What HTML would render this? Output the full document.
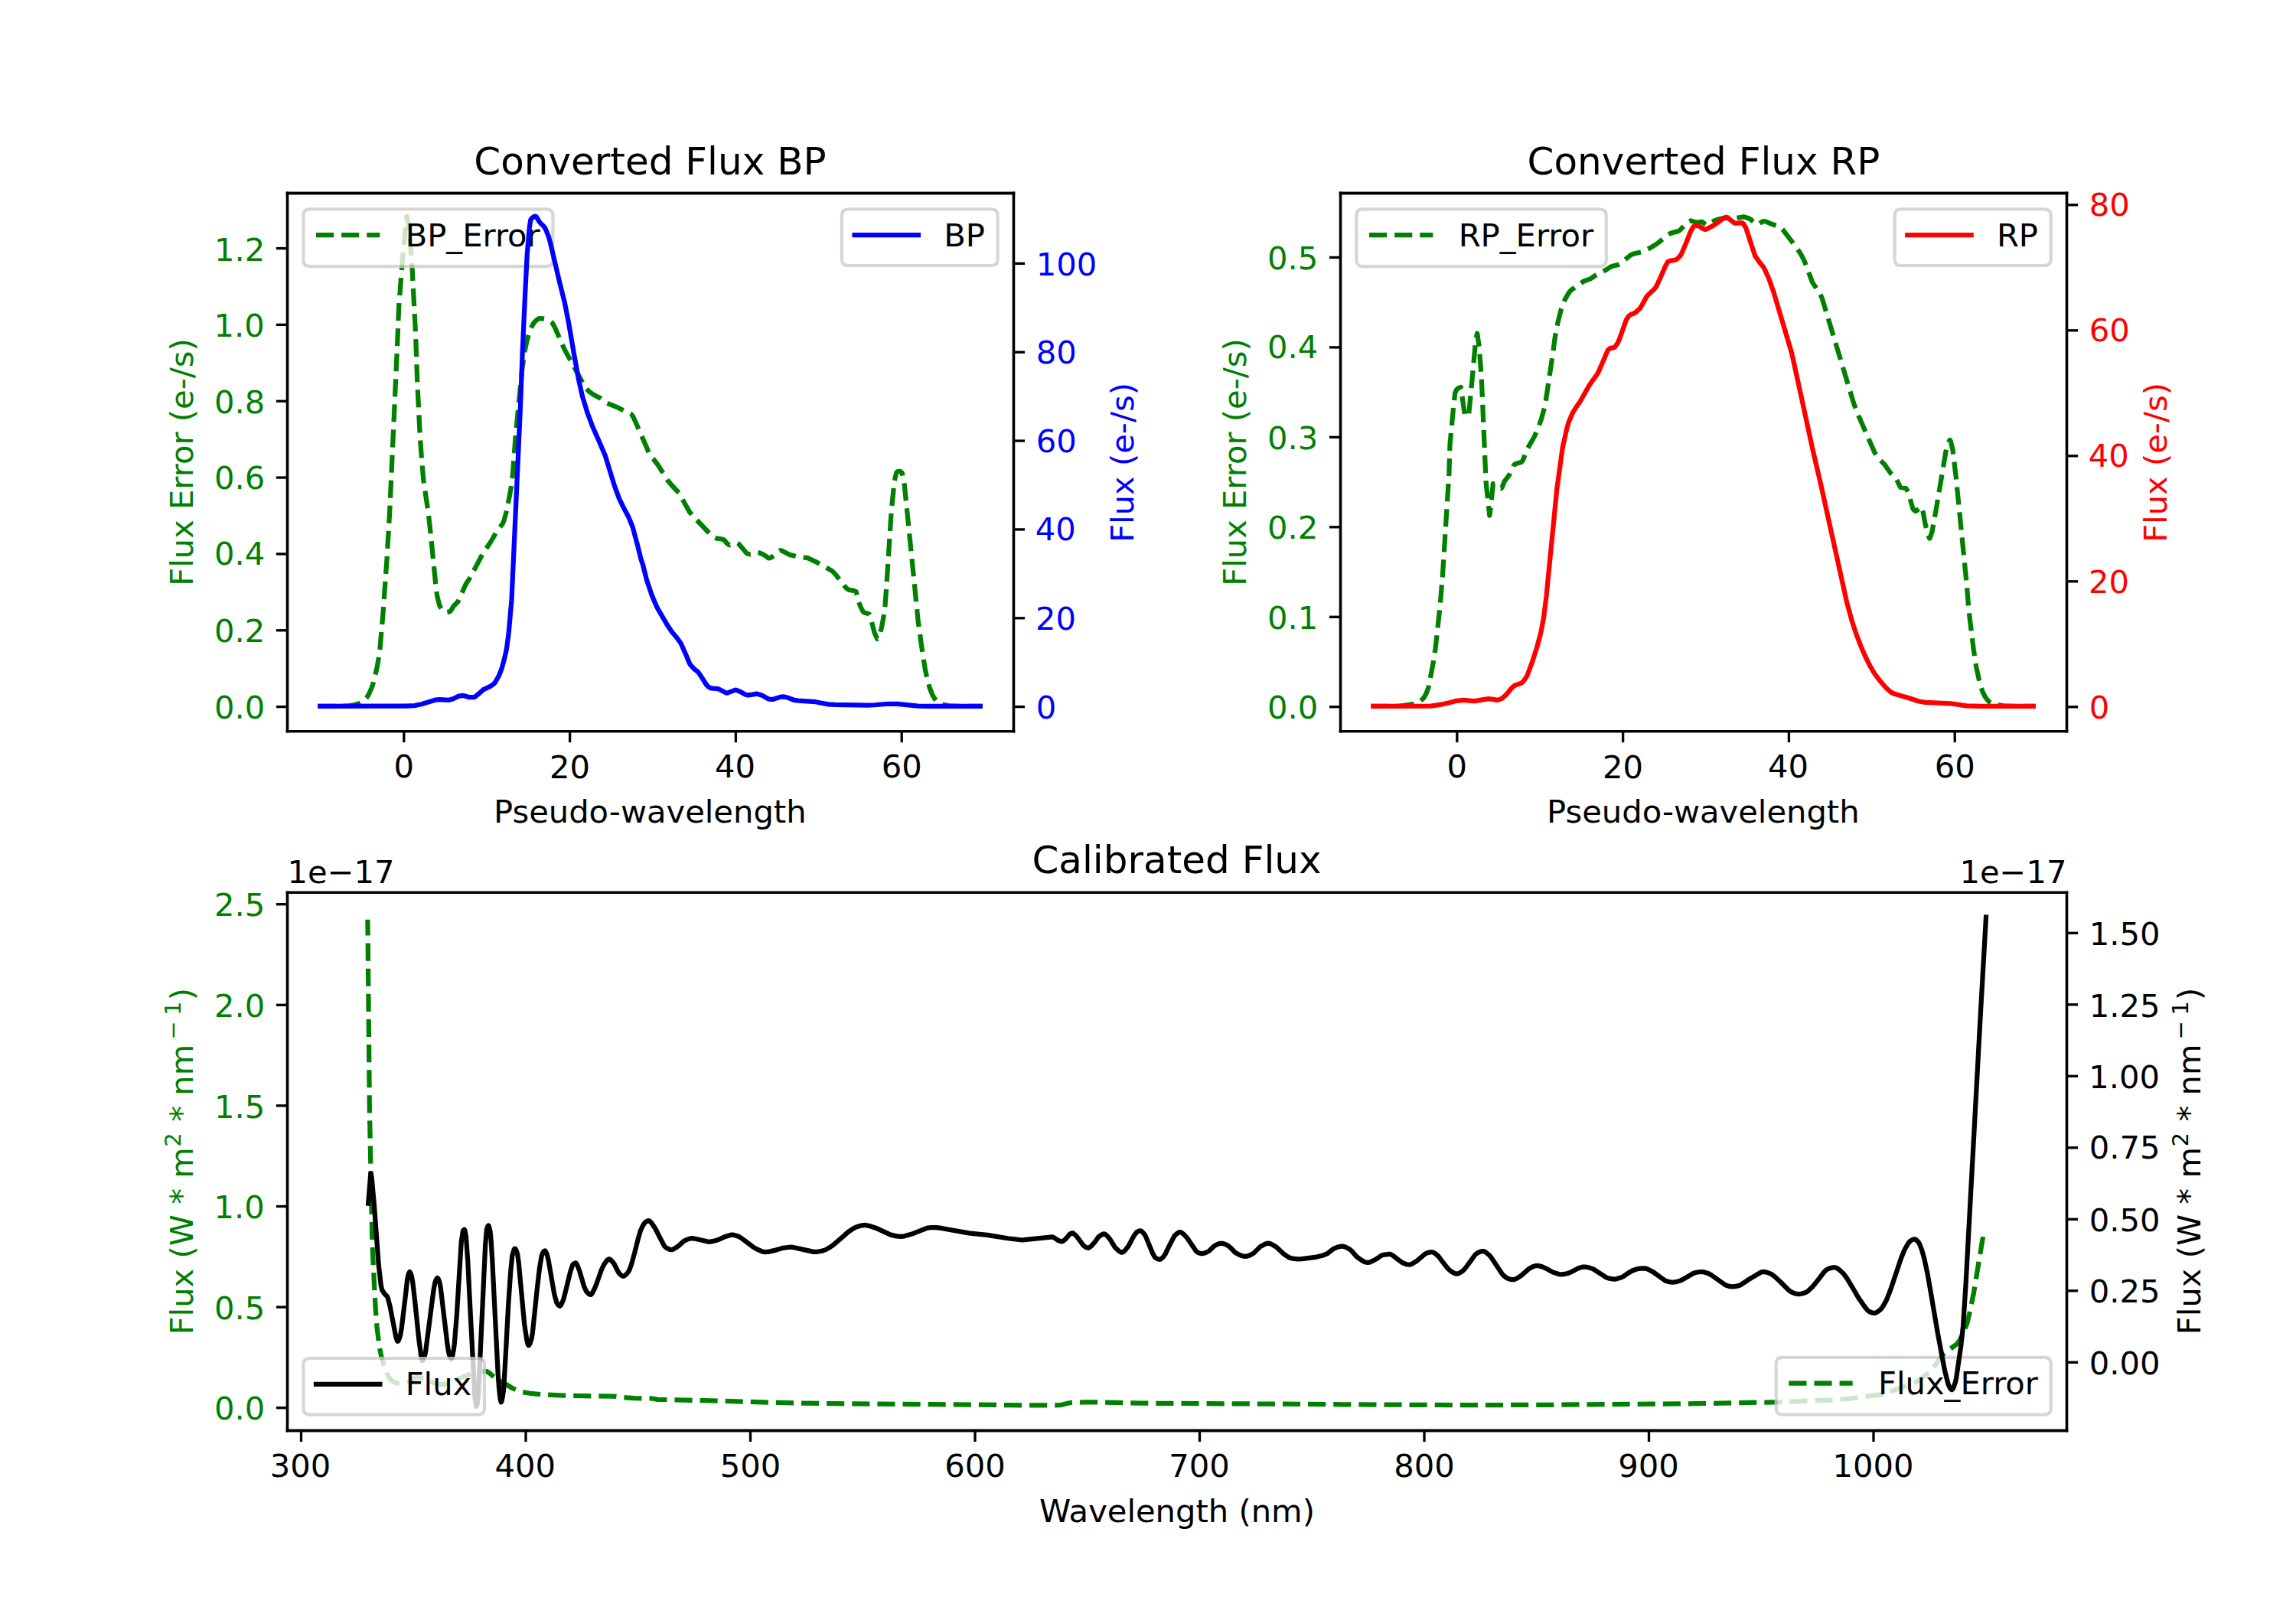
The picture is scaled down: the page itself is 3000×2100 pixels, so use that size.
<!DOCTYPE html>
<html lang="en"><head><meta charset="utf-8"><title>Converted and Calibrated Flux</title>
<style>html,body{margin:0;padding:0;background:#fff}svg{display:block}svg *{stroke-linejoin:round;stroke-linecap:butt}svg text,svg tspan{white-space:pre;font-family:"DejaVu Sans","Liberation Sans",sans-serif}</style>
</head><body>
<svg width="3000" height="2100" viewBox="0 0 720 504"> <g id="figure_1" transform="translate(0.12 0.12)"> <g> <path d="M 0 504 L 720 504 L 720 0 L 0 0 z " style="fill: #ffffff"/> </g> <g> <g> <path d="M 90 229.210 L 317.755 229.210 L 317.755 60.48 L 90 60.48 z " style="fill: #ffffff"/> </g> <g> <g> <g> <g> <path d="M 126.552 229.21 L 126.552 232.71" style="stroke: #000000; stroke-width: 0.8"/> </g> </g> <g> <text style="font-size: 10px; text-anchor: middle" x="126.552" y="243.808">0</text> </g> </g> <g> <g> <g> <path d="M 178.584 229.21 L 178.584 232.71" style="stroke: #000000; stroke-width: 0.8"/> </g> </g> <g> <g transform="translate(0.000 0.101)"><text style="font-size: 10px; text-anchor: middle" x="178.584" y="243.808">20</text></g> </g> </g> <g> <g> <g> <path d="M 230.616 229.21 L 230.616 232.71" style="stroke: #000000; stroke-width: 0.8"/> </g> </g> <g> <g transform="translate(-0.243 0.000)"><text style="font-size: 10px; text-anchor: middle" x="230.616" y="243.808">40</text></g> </g> </g> <g> <g> <g> <path d="M 282.648 229.21 L 282.648 232.71" style="stroke: #000000; stroke-width: 0.8"/> </g> </g> <g> <text style="font-size: 10px; text-anchor: middle" x="282.648" y="243.808">60</text> </g> </g> <g> <g transform="translate(-0.160 0.400)"><text style="font-size: 10px; text-anchor: middle" x="203.877" y="257.486">Pseudo-wavelength</text></g> </g> </g> <g> <g> <g> <g> <path d="M 90 221.544 L 86.5 221.544" style="stroke: #000000; stroke-width: 0.8"/> </g> </g> <g> <text style="font-size: 10px; text-anchor: end; fill: #008000" x="83" y="225.343">0.0</text> </g> </g> <g> <g> <g> <path d="M 90 197.582 L 86.5 197.582" style="stroke: #000000; stroke-width: 0.8"/> </g> </g> <g> <g transform="translate(0.000 -0.254)"><text style="font-size: 10px; text-anchor: end; fill: #008000" x="83" y="201.381">0.2</text></g> </g> </g> <g> <g> <g> <path d="M 90 173.621 L 86.5 173.621" style="stroke: #000000; stroke-width: 0.8"/> </g> </g> <g> <g transform="translate(0.000 -0.424)"><text style="font-size: 10px; text-anchor: end; fill: #008000" x="83" y="177.420">0.4</text></g> </g> </g> <g> <g> <g> <path d="M 90 149.659 L 86.5 149.659" style="stroke: #000000; stroke-width: 0.8"/> </g> </g> <g> <g transform="translate(0.000 -0.107)"><text style="font-size: 10px; text-anchor: end; fill: #008000" x="83" y="153.458">0.6</text></g> </g> </g> <g> <g> <g> <path d="M 90 125.698 L 86.5 125.698" style="stroke: #000000; stroke-width: 0.8"/> </g> </g> <g> <text style="font-size: 10px; text-anchor: end; fill: #008000" x="83" y="129.496">0.8</text> </g> </g> <g> <g> <g> <path d="M 90 101.736 L 86.5 101.736" style="stroke: #000000; stroke-width: 0.8"/> </g> </g> <g> <g transform="translate(-0.118 0.000)"><text style="font-size: 10px; text-anchor: end; fill: #008000" x="83" y="105.535">1.0</text></g> </g> </g> <g> <g> <g> <path d="M 90 77.774 L 86.5 77.774" style="stroke: #000000; stroke-width: 0.8"/> </g> </g> <g> <g transform="translate(0.000 0.124)"><text style="font-size: 10px; text-anchor: end; fill: #008000" x="83" y="81.573">1.2</text></g> </g> </g> <g> <g transform="translate(-0.552 0.000)"><text style="font-size: 10px; text-anchor: middle; fill: #008000" x="61.017" y="144.845" transform="rotate(-90 61.017 144.845)">Flux Error (e-/s)</text></g> </g> </g> <g> <path d="M 99.659 221.513 L 109.036 221.430 L 111.200 221.084 L 112.919 220.519 L 113.364 220.278 L 114.085 219.720 L 115.129 218.585 L 115.528 217.984 L 116.510 215.823 L 116.971 214.455 L 117.891 210.850 L 118.413 208.379 L 119.135 203.619 L 120.101 192.618 L 121.299 175.784 L 122.201 160.574 L 124.632 107.323 L 125.074 96.274 L 126.348 79.683 L 127.560 67.820 L 127.790 68.403 L 128.512 74.288 L 129.233 83.782 L 130.322 104.561 L 130.875 120.030 L 131.703 136.605 L 132.256 144.340 L 132.840 150.892 L 134.282 160.590 L 135.004 166.941 L 136.786 184.883 L 137.167 187.294 L 137.889 190.097 L 138.886 191.513 L 139.331 191.907 L 139.714 192.066 L 140.774 191.896 L 141.096 191.790 L 141.495 191.348 L 142.217 190.113 L 143.659 188.632 L 146.068 183.226 L 147.266 181.409 L 151.594 173.280 L 153.758 170.146 L 155.460 167.204 L 157.670 164.165 L 158.086 163.081 L 158.807 160.448 L 159.880 155.049 L 160.250 152.962 L 160.709 149.524 L 161.692 136.633 L 163.748 115.611 L 164.577 110.070 L 165.299 106.633 L 166.020 104.144 L 166.741 102.424 L 167.463 101.182 L 168.184 100.439 L 168.905 99.947 L 169.627 99.874 L 171.069 100.057 L 171.791 100.311 L 173.140 101.246 L 173.233 101.339 L 173.954 102.618 L 177.007 109.533 L 183.637 121.688 L 184.774 122.829 L 186.217 123.836 L 188.381 124.943 L 190.267 126.384 L 191.266 126.825 L 193.430 127.675 L 198.002 129.975 L 198.479 130.574 L 199.922 133.751 L 202.807 140.332 L 203.528 142.210 L 204.250 143.423 L 204.971 144.061 L 206.414 145.976 L 207.856 148.230 L 209.334 150.629 L 210.741 152.280 L 212.905 154.591 L 216.240 160.574 L 217.233 161.781 L 223.004 167.815 L 223.725 168.353 L 224.804 168.861 L 226.738 169.138 L 227.332 169.619 L 228.053 170.554 L 228.774 170.958 L 230.217 170.511 L 231.158 170.298 L 231.660 170.574 L 234.196 173.558 L 234.545 173.687 L 235.301 173.834 L 235.987 173.707 L 237.430 173.283 L 237.511 173.281 L 238.151 173.385 L 239.721 174.110 L 241.037 175.045 L 241.102 175.049 L 241.758 174.876 L 243.201 173.899 L 243.922 173.088 L 244.693 172.618 L 245.365 172.778 L 247.528 173.966 L 249.692 174.466 L 253.299 174.995 L 256.184 176.364 L 260.512 178.813 L 261.268 179.359 L 261.955 180.081 L 264.840 183.801 L 265.561 184.602 L 266.283 185.000 L 267.725 185.265 L 268.450 185.546 L 269.279 188.751 L 269.889 190.353 L 270.611 191.752 L 270.937 192.066 L 271.332 192.228 L 272.053 192.384 L 272.594 192.618 L 272.774 192.930 L 274.217 198.397 L 275.080 200.353 L 275.660 199.480 L 276.381 197.177 L 277.102 193.414 L 277.566 189.856 L 278.119 182.121 L 279.500 160.574 L 280.329 152.287 L 280.709 149.809 L 281.158 148.143 L 281.430 147.940 L 282.152 147.774 L 282.873 148.219 L 283.644 152.287 L 287.922 194.859 L 289.365 205.293 L 290.086 209.659 L 290.807 213.134 L 291.529 215.727 L 292.250 217.610 L 292.971 218.917 L 293.693 219.914 L 294.417 220.519 L 295.857 221.027 L 297.732 221.348 L 301.047 221.513 L 308.119 221.513 L 308.119 221.513 " clip-path="url(#p7373bc0abd)" transform="translate(-0.12 -0.12)" style="fill: none; stroke-dasharray: 5.55,2.4; stroke-dashoffset: 0; stroke: #008000; stroke-width: 1.5"/> </g> <g> <path d="M 90 229.210 L 90 60.48 " style="fill: none; stroke: #000000; stroke-width: 0.8; stroke-linejoin: miter; stroke-linecap: square"/> </g> <g> <path d="M 317.755 229.210 L 317.755 60.48 " style="fill: none; stroke: #000000; stroke-width: 0.8; stroke-linejoin: miter; stroke-linecap: square"/> </g> <g> <path d="M 90 229.210 L 317.755 229.210 " style="fill: none; stroke: #000000; stroke-width: 0.8; stroke-linejoin: miter; stroke-linecap: square"/> </g> <g> <path d="M 90 60.48 L 317.755 60.48 " style="fill: none; stroke: #000000; stroke-width: 0.8; stroke-linejoin: miter; stroke-linecap: square"/> </g> <g> <g transform="translate(-0.130 0.165)"><text style="font-size: 12px; text-anchor: middle" x="203.877" y="54.48">Converted Flux BP</text></g> </g> <g> <g> <path d="M 97 83.436 L 171.260 83.436 Q 173.260 83.436 173.260 81.436 L 173.260 67.48 Q 173.260 65.48 171.260 65.48 L 97 65.48 Q 95 65.48 95 67.48 L 95 81.436 Q 95 83.436 97 83.436 z " style="fill: #ffffff; opacity: 0.8; stroke: #cccccc; stroke-linejoin: miter"/> </g> <g> <path d="M 99 73.578 L 109 73.578 L 119 73.578 " style="fill: none; stroke-dasharray: 5.55,2.4; stroke-dashoffset: 0; stroke: #008000; stroke-width: 1.5"/> </g> <g> <text style="font-size: 10px; text-anchor: start" x="127" y="77.078">BP_Error</text> </g> </g> </g> <g> <g> <path d="M 420.244 229.210 L 648 229.210 L 648 60.48 L 420.244 60.48 z " style="fill: #ffffff"/> </g> <g> <g> <g> <g> <path d="M 456.797 229.21 L 456.797 232.71" style="stroke: #000000; stroke-width: 0.8"/> </g> </g> <g> <text style="font-size: 10px; text-anchor: middle" x="456.796" y="243.808">0</text> </g> </g> <g> <g> <g> <path d="M 508.829 229.21 L 508.829 232.71" style="stroke: #000000; stroke-width: 0.8"/> </g> </g> <g> <g transform="translate(0.000 0.101)"><text style="font-size: 10px; text-anchor: middle" x="508.828" y="243.808">20</text></g> </g> </g> <g> <g> <g> <path d="M 560.861 229.21 L 560.861 232.71" style="stroke: #000000; stroke-width: 0.8"/> </g> </g> <g> <g transform="translate(-0.203 0.000)"><text style="font-size: 10px; text-anchor: middle" x="560.860" y="243.808">40</text></g> </g> </g> <g> <g> <g> <path d="M 612.893 229.21 L 612.893 232.71" style="stroke: #000000; stroke-width: 0.8"/> </g> </g> <g> <text style="font-size: 10px; text-anchor: middle" x="612.892" y="243.808">60</text> </g> </g> <g> <g transform="translate(-0.161 0.401)"><text style="font-size: 10px; text-anchor: middle" x="534.122" y="257.486">Pseudo-wavelength</text></g> </g> </g> <g> <g> <g> <g> <path d="M 420.245 221.568 L 416.745 221.568" style="stroke: #000000; stroke-width: 0.8"/> </g> </g> <g> <g transform="translate(0.000 -0.237)"><text style="font-size: 10px; text-anchor: end; fill: #008000" x="413.244" y="225.367">0.0</text></g> </g> </g> <g> <g> <g> <path d="M 420.245 193.38 L 416.745 193.38" style="stroke: #000000; stroke-width: 0.8"/> </g> </g> <g> <text style="font-size: 10px; text-anchor: end; fill: #008000" x="413.244" y="197.179">0.1</text> </g> </g> <g> <g> <g> <path d="M 420.245 165.192 L 416.745 165.192" style="stroke: #000000; stroke-width: 0.8"/> </g> </g> <g> <g transform="translate(0.000 -0.254)"><text style="font-size: 10px; text-anchor: end; fill: #008000" x="413.244" y="168.991">0.2</text></g> </g> </g> <g> <g> <g> <path d="M 420.245 137.004 L 416.745 137.004" style="stroke: #000000; stroke-width: 0.8"/> </g> </g> <g> <text style="font-size: 10px; text-anchor: end; fill: #008000" x="413.244" y="140.803">0.3</text> </g> </g> <g> <g> <g> <path d="M 420.245 108.816 L 416.745 108.816" style="stroke: #000000; stroke-width: 0.8"/> </g> </g> <g> <g transform="translate(0.000 -0.296)"><text style="font-size: 10px; text-anchor: end; fill: #008000" x="413.244" y="112.615">0.4</text></g> </g> </g> <g> <g> <g> <path d="M 420.245 80.628 L 416.745 80.628" style="stroke: #000000; stroke-width: 0.8"/> </g> </g> <g> <text style="font-size: 10px; text-anchor: end; fill: #008000" x="413.244" y="84.427">0.5</text> </g> </g> <g> <g transform="translate(-0.552 0.000)"><text style="font-size: 10px; text-anchor: middle; fill: #008000" x="391.262" y="144.845" transform="rotate(-90 391.262 144.845)">Flux Error (e-/s)</text></g> </g> </g> <g> <path d="M 429.935 221.513 L 438.589 221.456 L 440.752 221.176 L 443.637 220.754 L 444.358 220.486 L 445.079 220.079 L 446.234 219.138 L 446.521 218.804 L 447.242 217.506 L 447.963 215.593 L 449.406 208.039 L 450.127 203.482 L 451.569 190.248 L 452.422 179.911 L 454.411 148.419 L 454.687 139.367 L 455.896 126.659 L 456.289 123.345 L 456.617 122.496 L 457.007 121.964 L 457.338 121.711 L 458.112 121.412 L 459.383 130.528 L 459.501 130.523 L 460.223 130.278 L 460.598 129.975 L 461.814 117.268 L 462.808 106.218 L 463.250 104.561 L 463.828 108.658 L 464.576 118.373 L 465.992 151.274 L 467.118 161.679 L 467.434 159.356 L 468.223 151.734 L 468.876 151.958 L 470.819 153.116 L 471.039 152.854 L 471.761 150.993 L 473.306 148.972 L 474.645 146.024 L 474.963 145.657 L 475.366 145.463 L 477.173 144.892 L 477.530 144.416 L 478.972 140.747 L 481.135 136.965 L 482.577 133.616 L 483.298 131.575 L 484.355 127.765 L 484.741 125.740 L 486.904 111.220 L 487.625 105.863 L 488.499 101.246 L 489.604 96.826 L 490.510 94.474 L 491.231 93.057 L 491.952 91.838 L 492.673 91.000 L 495.558 89.039 L 496.510 88.262 L 497.721 87.804 L 498.720 87.434 L 499.884 86.655 L 501.327 85.835 L 503.490 84.733 L 504.932 83.758 L 505.653 83.471 L 507.560 83.014 L 507.817 82.883 L 511.422 79.945 L 512.143 79.648 L 515.028 78.953 L 517.191 77.918 L 519.355 76.635 L 520.076 76.101 L 522.239 74.219 L 523.681 73.268 L 524.402 72.985 L 526.344 72.517 L 526.566 72.389 L 529.450 69.508 L 530.212 69.202 L 531.876 69.754 L 533.777 69.543 L 534.498 70.165 L 535.219 70.582 L 535.940 70.294 L 537.383 69.360 L 538.825 68.776 L 540.267 68.485 L 541.709 68.373 L 544.594 68.355 L 546.757 67.998 L 548.200 68.382 L 548.921 68.782 L 549.832 69.478 L 550.363 70.028 L 551.084 70.404 L 551.805 70.058 L 552.526 69.569 L 553.247 69.371 L 553.968 69.558 L 555.411 70.215 L 558.119 71.135 L 558.295 71.245 L 559.016 71.949 L 563.644 78.041 L 564.785 79.841 L 565.854 81.909 L 568.391 88.630 L 570.554 91.786 L 571.379 93.511 L 581.371 126.701 L 582.813 130.357 L 587.861 141.900 L 589.058 143.787 L 590.025 144.724 L 590.992 145.657 L 592.909 148.445 L 594.351 149.782 L 594.583 150.077 L 595.964 152.839 L 597.622 153.116 L 597.957 153.523 L 598.727 155.602 L 599.832 159.469 L 600.120 159.887 L 600.660 160.298 L 600.841 160.264 L 602.594 158.917 L 603.005 160.346 L 603.726 164.289 L 604.447 167.350 L 605.080 168.861 L 605.168 168.821 L 605.909 166.651 L 607.332 158.710 L 610.216 141.499 L 610.937 138.866 L 611.434 137.986 L 611.658 138.236 L 612.379 141.147 L 613.367 149.524 L 616.706 182.950 L 617.427 191.748 L 618.892 203.668 L 619.721 209.193 L 620.826 214.165 L 621.754 217.065 L 622.475 218.466 L 623.196 219.488 L 623.917 220.225 L 624.639 220.601 L 626.081 221.017 L 628.285 221.348 L 631.129 221.513 L 638.340 221.513 L 638.340 221.513 " clip-path="url(#pa615c9e503)" transform="translate(-0.12 -0.12)" style="fill: none; stroke-dasharray: 5.55,2.4; stroke-dashoffset: 0; stroke: #008000; stroke-width: 1.5"/> </g> <g> <path d="M 420.244 229.210 L 420.244 60.48 " style="fill: none; stroke: #000000; stroke-width: 0.8; stroke-linejoin: miter; stroke-linecap: square"/> </g> <g> <path d="M 648 229.210 L 648 60.48 " style="fill: none; stroke: #000000; stroke-width: 0.8; stroke-linejoin: miter; stroke-linecap: square"/> </g> <g> <path d="M 420.244 229.210 L 648 229.210 " style="fill: none; stroke: #000000; stroke-width: 0.8; stroke-linejoin: miter; stroke-linecap: square"/> </g> <g> <path d="M 420.244 60.48 L 648 60.48 " style="fill: none; stroke: #000000; stroke-width: 0.8; stroke-linejoin: miter; stroke-linecap: square"/> </g> <g> <g transform="translate(0.000 0.162)"><text style="font-size: 12px; text-anchor: middle" x="534.122" y="54.48">Converted Flux RP</text></g> </g> <g> <g> <path d="M 427.244 83.436 L 501.593 83.436 Q 503.593 83.436 503.593 81.436 L 503.593 67.48 Q 503.593 65.48 501.593 65.48 L 427.244 65.48 Q 425.244 65.48 425.244 67.48 L 425.244 81.436 Q 425.244 83.436 427.244 83.436 z " style="fill: #ffffff; opacity: 0.8; stroke: #cccccc; stroke-linejoin: miter"/> </g> <g> <path d="M 429.244 73.578 L 439.244 73.578 L 449.244 73.578 " style="fill: none; stroke-dasharray: 5.55,2.4; stroke-dashoffset: 0; stroke: #008000; stroke-width: 1.5"/> </g> <g> <text style="font-size: 10px; text-anchor: start" x="457.244" y="77.078">RP_Error</text> </g> </g> </g> <g> <g> <path d="M 90 448.56 L 648 448.56 L 648 279.829 L 90 279.829 z " style="fill: #ffffff"/> </g> <g> <g> <g> <g> <path d="M 94.32 448.56 L 94.32 452.06" style="stroke: #000000; stroke-width: 0.8"/> </g> </g> <g> <g transform="translate(-0.234 0.000)"><text style="font-size: 10px; text-anchor: middle" x="94.32" y="463.158">300</text></g> </g> </g> <g> <g> <g> <path d="M 164.76 448.56 L 164.76 452.06" style="stroke: #000000; stroke-width: 0.8"/> </g> </g> <g> <g transform="translate(-0.153 0.000)"><text style="font-size: 10px; text-anchor: middle" x="164.76" y="463.158">400</text></g> </g> </g> <g> <g> <g> <path d="M 235.2 448.56 L 235.2 452.06" style="stroke: #000000; stroke-width: 0.8"/> </g> </g> <g> <text style="font-size: 10px; text-anchor: middle" x="235.2" y="463.158">500</text> </g> </g> <g> <g> <g> <path d="M 305.64 448.56 L 305.64 452.06" style="stroke: #000000; stroke-width: 0.8"/> </g> </g> <g> <text style="font-size: 10px; text-anchor: middle" x="305.64" y="463.158">600</text> </g> </g> <g> <g> <g> <path d="M 376.08 448.56 L 376.08 452.06" style="stroke: #000000; stroke-width: 0.8"/> </g> </g> <g> <g transform="translate(-0.110 0.000)"><text style="font-size: 10px; text-anchor: middle" x="376.08" y="463.158">700</text></g> </g> </g> <g> <g> <g> <path d="M 446.52 448.56 L 446.52 452.06" style="stroke: #000000; stroke-width: 0.8"/> </g> </g> <g> <text style="font-size: 10px; text-anchor: middle" x="446.52" y="463.158">800</text> </g> </g> <g> <g> <g> <path d="M 516.96 448.56 L 516.96 452.06" style="stroke: #000000; stroke-width: 0.8"/> </g> </g> <g> <g transform="translate(-0.103 0.000)"><text style="font-size: 10px; text-anchor: middle" x="516.96" y="463.158">900</text></g> </g> </g> <g> <g> <g> <path d="M 587.4 448.56 L 587.4 452.06" style="stroke: #000000; stroke-width: 0.8"/> </g> </g> <g> <g transform="translate(-0.145 0.000)"><text style="font-size: 10px; text-anchor: middle" x="587.4" y="463.158">1000</text></g> </g> </g> <g> <g transform="translate(0.000 0.387)"><text style="font-size: 10px; text-anchor: middle" x="369" y="476.836">Wavelength (nm)</text></g> </g> </g> <g> <g> <g> <g> <path d="M 90 441.408 L 86.5 441.408" style="stroke: #000000; stroke-width: 0.8"/> </g> </g> <g> <g transform="translate(0.000 -0.237)"><text style="font-size: 10px; text-anchor: end; fill: #008000" x="83" y="445.207">0.0</text></g> </g> </g> <g> <g> <g> <path d="M 90 409.824 L 86.5 409.824" style="stroke: #000000; stroke-width: 0.8"/> </g> </g> <g> <text style="font-size: 10px; text-anchor: end; fill: #008000" x="83" y="413.623">0.5</text> </g> </g> <g> <g> <g> <path d="M 90 378.24 L 86.5 378.24" style="stroke: #000000; stroke-width: 0.8"/> </g> </g> <g> <g transform="translate(-0.118 -0.099)"><text style="font-size: 10px; text-anchor: end; fill: #008000" x="83" y="382.039">1.0</text></g> </g> </g> <g> <g> <g> <path d="M 90 346.656 L 86.5 346.656" style="stroke: #000000; stroke-width: 0.8"/> </g> </g> <g> <g transform="translate(0.000 0.116)"><text style="font-size: 10px; text-anchor: end; fill: #008000" x="83" y="350.455">1.5</text></g> </g> </g> <g> <g> <g> <path d="M 90 315.072 L 86.5 315.072" style="stroke: #000000; stroke-width: 0.8"/> </g> </g> <g> <g transform="translate(0.000 -0.117)"><text style="font-size: 10px; text-anchor: end; fill: #008000" x="83" y="318.871">2.0</text></g> </g> </g> <g> <g> <g> <path d="M 90 283.488 L 86.5 283.488" style="stroke: #000000; stroke-width: 0.8"/> </g> </g> <g> <g transform="translate(0.000 -0.228)"><text style="font-size: 10px; text-anchor: end; fill: #008000" x="83" y="287.287">2.5</text></g> </g> </g> <g> <g style="fill: #008000" transform="translate(61.017 418.594) rotate(-90)"> <g transform="translate(0.072 0.240)"><text><tspan x="0" y="-0.976" style="font-size: 10px; fill: #008000">Flux (W * m</tspan><tspan x="58.948" y="-4.804" style="font-size: 7px; fill: #008000">2</tspan><tspan x="63.675" y="-0.976" style="font-size: 10px; fill: #008000"> * nm</tspan><tspan x="92.571" y="-4.804" style="font-size: 7px; fill: #008000">−</tspan><tspan x="100.169" y="-4.804" style="font-size: 7px; fill: #008000">1</tspan><tspan x="104.896" y="-0.976" style="font-size: 10px; fill: #008000">)</tspan></text></g> </g> </g> <g> <text style="font-size: 10px; text-anchor: start" x="90" y="276.829">1e−17</text> </g> </g> <g> <path d="M 115.300 288.418 L 115.885 347.623 L 116.741 390.296 L 117.702 409.514 L 118.182 415.988 L 118.910 422.068 L 119.624 425.582 L 120.585 428.904 L 121.396 430.908 L 122.026 431.975 L 122.506 432.627 L 123.054 433.118 L 124.428 433.799 L 125.389 433.945 L 126.830 433.789 L 127.791 433.578 L 128.752 433.028 L 130.193 432.137 L 130.788 432.013 L 132.115 432.130 L 133.556 432.479 L 135.959 433.727 L 137.880 434.180 L 138.841 434.212 L 140.282 433.952 L 141.724 433.514 L 143.645 432.485 L 145.567 431.656 L 149.411 430.266 L 151.332 430.105 L 152.335 430.079 L 152.774 430.172 L 153.735 430.839 L 155.176 432.063 L 160.461 435.248 L 162.382 436.104 L 163.824 436.546 L 166.148 436.985 L 169.589 437.304 L 176.795 437.674 L 182.722 437.814 L 192.650 437.887 L 196.493 438.341 L 198.895 438.527 L 204.661 438.610 L 206.209 438.919 L 211.867 439.036 L 220.995 439.251 L 248.861 440.032 L 261.832 440.205 L 305.552 440.550 L 324 440.742 L 332.456 440.696 L 334.858 440.099 L 335.819 439.911 L 340.143 439.754 L 344.947 439.808 L 357.439 440.078 L 386.745 440.239 L 420.856 440.461 L 459.291 440.685 L 484.273 440.604 L 529.434 440.255 L 558.740 439.710 L 574.595 439.041 L 578.919 438.766 L 590.449 437.298 L 592.371 436.613 L 595.734 435.327 L 599.577 434.047 L 601.019 433.360 L 602.460 432.409 L 604.382 430.832 L 605.823 429.344 L 607.264 427.604 L 609.268 424.830 L 610.147 424.101 L 613.688 421.516 L 614.471 420.405 L 615.912 417.562 L 616.873 414.967 L 617.834 411.008 L 618.937 405.493 L 621.677 388.869 L 622.251 386.709 L 622.638 386.156 L 622.638 386.156 " clip-path="url(#p4cbbc29d7d)" transform="translate(-0.12 -0.12)" style="fill: none; stroke-dasharray: 5.55,2.4; stroke-dashoffset: 0.55; stroke: #008000; stroke-width: 1.5"/> </g> <g> <path d="M 90 448.56 L 90 279.829 " style="fill: none; stroke: #000000; stroke-width: 0.8; stroke-linejoin: miter; stroke-linecap: square"/> </g> <g> <path d="M 648 448.56 L 648 279.829 " style="fill: none; stroke: #000000; stroke-width: 0.8; stroke-linejoin: miter; stroke-linecap: square"/> </g> <g> <path d="M 90 448.56 L 648 448.56 " style="fill: none; stroke: #000000; stroke-width: 0.8; stroke-linejoin: miter; stroke-linecap: square"/> </g> <g> <path d="M 90 279.829 L 648 279.829 " style="fill: none; stroke: #000000; stroke-width: 0.8; stroke-linejoin: miter; stroke-linecap: square"/> </g> <g> <g transform="translate(-0.122 0.000)"><text style="font-size: 12px; text-anchor: middle" x="369" y="273.829">Calibrated Flux</text></g> </g> <g> <g> <path d="M 558.843 443.56 L 641 443.56 Q 643 443.56 643 441.56 L 643 427.603 Q 643 425.603 641 425.603 L 558.843 425.603 Q 556.843 425.603 556.843 427.603 L 556.843 441.56 Q 556.843 443.56 558.843 443.56 z " style="fill: #ffffff; opacity: 0.8; stroke: #cccccc; stroke-linejoin: miter"/> </g> <g> <path d="M 560.843 433.702 L 570.843 433.702 L 580.843 433.702 " style="fill: none; stroke-dasharray: 5.55,2.4; stroke-dashoffset: 0; stroke: #008000; stroke-width: 1.5"/> </g> <g> <text style="font-size: 10px; text-anchor: start" x="588.843" y="437.202">Flux_Error</text> </g> </g> </g> <g> <g> <g> <g> <g> <path d="M 317.755 221.544 L 321.255 221.544" style="stroke: #000000; stroke-width: 0.8"/> </g> </g> <g> <text style="font-size: 10px; text-anchor: start; fill: #0000ff" x="324.755" y="225.343">0</text> </g> </g> <g> <g> <g> <path d="M 317.755 193.742 L 321.255 193.742" style="stroke: #000000; stroke-width: 0.8"/> </g> </g> <g> <g transform="translate(-0.148 -0.227)"><text style="font-size: 10px; text-anchor: start; fill: #0000ff" x="324.755" y="197.541">20</text></g> </g> </g> <g> <g> <g> <path d="M 317.755 165.941 L 321.255 165.941" style="stroke: #000000; stroke-width: 0.8"/> </g> </g> <g> <g transform="translate(-0.209 -0.317)"><text style="font-size: 10px; text-anchor: start; fill: #0000ff" x="324.755" y="169.740">40</text></g> </g> </g> <g> <g> <g> <path d="M 317.755 138.139 L 321.255 138.139" style="stroke: #000000; stroke-width: 0.8"/> </g> </g> <g> <g transform="translate(0.000 -0.222)"><text style="font-size: 10px; text-anchor: start; fill: #0000ff" x="324.755" y="141.938">60</text></g> </g> </g> <g> <g> <g> <path d="M 317.755 110.338 L 321.255 110.338" style="stroke: #000000; stroke-width: 0.8"/> </g> </g> <g> <g transform="translate(0.000 -0.275)"><text style="font-size: 10px; text-anchor: start; fill: #0000ff" x="324.755" y="114.136">80</text></g> </g> </g> <g> <g> <g> <path d="M 317.755 82.536 L 321.255 82.536" style="stroke: #000000; stroke-width: 0.8"/> </g> </g> <g> <text style="font-size: 10px; text-anchor: start; fill: #0000ff" x="324.755" y="86.335">100</text> </g> </g> <g> <g transform="translate(0.000 0.107)"><text style="font-size: 10px; text-anchor: middle; fill: #0000ff" x="355.441" y="144.845" transform="rotate(-90 355.441 144.845)">Flux (e-/s)</text></g> </g> </g> <g> <path d="M 100.403 221.513 L 127.086 221.403 L 129.971 221.312 L 132.134 220.847 L 136.461 219.530 L 137.903 219.415 L 140.788 219.564 L 142.230 219.127 L 143.858 218.309 L 145.239 218.143 L 145.836 218.269 L 147.173 218.696 L 148.721 218.672 L 149.935 217.756 L 151.605 216.258 L 153.769 215.267 L 154.908 214.441 L 155.211 214.095 L 156.289 212.232 L 156.653 211.448 L 157.394 209.469 L 158.223 206.430 L 158.886 203.392 L 159.538 198.363 L 160.433 188.198 L 163.144 128.574 L 163.865 109.854 L 164.742 90.749 L 165.307 79.770 L 166.028 71.410 L 166.4 68.925 L 166.749 68.461 L 167.471 67.905 L 167.891 67.820 L 168.192 67.996 L 169.272 69.754 L 170.654 71.135 L 171.076 71.837 L 172.035 74.174 L 172.519 75.909 L 175.403 88.200 L 177.007 94.616 L 178.288 101.069 L 180.322 112.848 L 181.427 118.925 L 182.615 124.215 L 184.190 129.423 L 185.847 133.843 L 187.663 137.929 L 189.826 143.003 L 192.711 152.431 L 194.153 156.309 L 195.596 159.316 L 197.038 161.976 L 198.278 164.994 L 198.480 165.612 L 199.923 171.011 L 201.040 175.491 L 201.6 177.149 L 202.807 181.921 L 204.362 186.541 L 205.692 189.727 L 206.413 191.171 L 209.298 196.103 L 210.740 198.249 L 212.182 199.910 L 213.478 201.734 L 213.625 201.998 L 215.067 205.277 L 216.240 208.088 L 216.509 208.492 L 217.622 209.745 L 218.727 210.574 L 219.394 211.415 L 221.557 214.791 L 222.278 215.514 L 223.000 215.840 L 225.163 216.004 L 227.843 217.370 L 228.048 217.353 L 229.490 216.812 L 230.605 216.375 L 230.932 216.419 L 232.375 217.063 L 233.817 217.854 L 234.538 218.032 L 235.980 217.845 L 237.235 217.591 L 237.423 217.600 L 238.865 218.027 L 241.029 219.239 L 241.750 219.303 L 242.483 219.303 L 243.913 218.847 L 245.246 218.475 L 246.077 218.573 L 246.798 218.743 L 248.961 219.550 L 250.404 219.750 L 255.743 220.132 L 257.615 220.510 L 259.779 220.872 L 261.942 221.010 L 272.038 221.197 L 274.202 221.100 L 278.529 220.740 L 281.413 220.780 L 287.904 221.414 L 291.509 221.513 L 307.375 221.513 L 307.375 221.513 " clip-path="url(#p7373bc0abd)" transform="translate(-0.12 -0.12)" style="fill: none; stroke: #0000ff; stroke-width: 1.5; stroke-linecap: square"/> </g> <g> <path d="M 90 229.210 L 90 60.48 " style="fill: none; stroke: #000000; stroke-width: 0.8; stroke-linejoin: miter; stroke-linecap: square"/> </g> <g> <path d="M 317.755 229.210 L 317.755 60.48 " style="fill: none; stroke: #000000; stroke-width: 0.8; stroke-linejoin: miter; stroke-linecap: square"/> </g> <g> <path d="M 90 229.210 L 317.755 229.210 " style="fill: none; stroke: #000000; stroke-width: 0.8; stroke-linejoin: miter; stroke-linecap: square"/> </g> <g> <path d="M 90 60.48 L 317.755 60.48 " style="fill: none; stroke: #000000; stroke-width: 0.8; stroke-linejoin: miter; stroke-linecap: square"/> </g> <g> <g> <path d="M 265.864 83.158 L 310.755 83.158 Q 312.755 83.158 312.755 81.158 L 312.755 67.48 Q 312.755 65.48 310.755 65.48 L 265.864 65.48 Q 263.864 65.48 263.864 67.48 L 263.864 81.158 Q 263.864 83.158 265.864 83.158 z " style="fill: #ffffff; opacity: 0.8; stroke: #cccccc; stroke-linejoin: miter"/> </g> <g> <path d="M 267.864 73.578 L 277.864 73.578 L 287.864 73.578 " style="fill: none; stroke: #0000ff; stroke-width: 1.5; stroke-linecap: square"/> </g> <g> <text style="font-size: 10px; text-anchor: start" x="295.864" y="77.078">BP</text> </g> </g> </g> <g> <g> <g> <g> <g> <path d="M 648 221.592 L 651.5 221.592" style="stroke: #000000; stroke-width: 0.8"/> </g> </g> <g> <g transform="translate(0.000 -0.251)"><text style="font-size: 10px; text-anchor: start; fill: #ff0000" x="655" y="225.391">0</text></g> </g> </g> <g> <g> <g> <path d="M 648 182.232 L 651.5 182.232" style="stroke: #000000; stroke-width: 0.8"/> </g> </g> <g> <g transform="translate(-0.148 -0.227)"><text style="font-size: 10px; text-anchor: start; fill: #ff0000" x="655" y="186.031">20</text></g> </g> </g> <g> <g> <g> <path d="M 648 142.872 L 651.5 142.872" style="stroke: #000000; stroke-width: 0.8"/> </g> </g> <g> <g transform="translate(-0.210 -0.273)"><text style="font-size: 10px; text-anchor: start; fill: #ff0000" x="655" y="146.671">40</text></g> </g> </g> <g> <g> <g> <path d="M 648 103.512 L 651.5 103.512" style="stroke: #000000; stroke-width: 0.8"/> </g> </g> <g> <g transform="translate(0.000 -0.279)"><text style="font-size: 10px; text-anchor: start; fill: #ff0000" x="655" y="107.311">60</text></g> </g> </g> <g> <g> <g> <path d="M 648 64.152 L 651.5 64.152" style="stroke: #000000; stroke-width: 0.8"/> </g> </g> <g> <g transform="translate(0.000 -0.275)"><text style="font-size: 10px; text-anchor: start; fill: #ff0000" x="655" y="67.951">80</text></g> </g> </g> <g> <g transform="translate(0.000 0.110)"><text style="font-size: 10px; text-anchor: middle; fill: #ff0000" x="679.323" y="144.845" transform="rotate(-90 679.323 144.845)">Flux (e-/s)</text></g> </g> </g> <g> <path d="M 430.679 221.513 L 448.703 221.435 L 451.587 221.032 L 454.471 220.390 L 456.731 219.801 L 458.941 219.580 L 460.960 219.762 L 462.402 219.853 L 463.844 219.648 L 466.728 219.157 L 468.169 219.317 L 469.438 219.580 L 469.611 219.569 L 470.819 219.138 L 471.053 219.012 L 472.201 218.033 L 472.495 217.699 L 473.937 215.883 L 474.963 214.994 L 476.100 214.583 L 477.173 214.165 L 477.542 213.871 L 478.554 212.508 L 478.984 211.663 L 480.426 207.834 L 481.868 203.314 L 482.974 199.248 L 483.310 197.785 L 484.079 193.723 L 484.908 187.093 L 488.223 153.392 L 489.991 140.472 L 491.240 134.859 L 491.961 132.303 L 493.195 129.423 L 494.124 127.940 L 495.566 125.840 L 498.450 120.710 L 500.930 117.268 L 501.334 116.458 L 504.218 109.804 L 504.939 109.213 L 506.179 108.981 L 506.381 108.862 L 507.283 107.6 L 507.822 106.410 L 509.985 100.287 L 510.706 99.171 L 511.427 98.616 L 512.532 98.207 L 512.869 98.005 L 514.190 96.826 L 514.311 96.680 L 515.032 95.466 L 516.4 92.959 L 517.195 92.111 L 518.637 90.831 L 519.358 89.897 L 520.800 86.836 L 522.242 83.482 L 522.963 82.200 L 523.306 81.909 L 524.405 81.679 L 525.516 81.467 L 525.847 81.300 L 526.897 80.251 L 527.288 79.626 L 528.730 76.234 L 530.212 72.517 L 530.893 71.288 L 531.317 70.859 L 532.152 70.638 L 532.335 70.659 L 533.056 71.037 L 533.777 71.597 L 534.638 71.964 L 535.219 71.847 L 537.382 70.671 L 539.545 69.145 L 540.266 68.532 L 541.268 68.097 L 541.708 68.230 L 543.150 69.395 L 544.030 70.030 L 546.240 69.865 L 546.754 70.217 L 547.475 71.405 L 550.359 80.215 L 551.801 82.299 L 552.870 83.566 L 553.243 84.193 L 554.685 87.368 L 556.127 91.415 L 561.895 110.821 L 564.779 124.037 L 568.383 140.733 L 570.826 151.182 L 579.113 188.751 L 580.640 194.391 L 582.082 198.837 L 583.524 202.611 L 584.966 205.920 L 586.407 208.830 L 587.849 211.260 L 589.611 213.613 L 591.454 215.749 L 592.896 217.016 L 593.617 217.432 L 595.135 217.922 L 598.664 218.928 L 601.765 219.966 L 603.711 220.283 L 606.594 220.432 L 611.641 220.622 L 616.688 221.348 L 621.102 221.513 L 637.596 221.513 L 637.596 221.513 " clip-path="url(#pa615c9e503)" transform="translate(-0.12 -0.12)" style="fill: none; stroke: #ff0000; stroke-width: 1.5; stroke-linecap: square"/> </g> <g> <path d="M 420.244 229.210 L 420.244 60.48 " style="fill: none; stroke: #000000; stroke-width: 0.8; stroke-linejoin: miter; stroke-linecap: square"/> </g> <g> <path d="M 648 229.210 L 648 60.48 " style="fill: none; stroke: #000000; stroke-width: 0.8; stroke-linejoin: miter; stroke-linecap: square"/> </g> <g> <path d="M 420.244 229.210 L 648 229.210 " style="fill: none; stroke: #000000; stroke-width: 0.8; stroke-linejoin: miter; stroke-linecap: square"/> </g> <g> <path d="M 420.244 60.48 L 648 60.48 " style="fill: none; stroke: #000000; stroke-width: 0.8; stroke-linejoin: miter; stroke-linecap: square"/> </g> <g> <g> <path d="M 596.021 83.158 L 641 83.158 Q 643 83.158 643 81.158 L 643 67.48 Q 643 65.48 641 65.48 L 596.021 65.48 Q 594.021 65.48 594.021 67.48 L 594.021 81.158 Q 594.021 83.158 596.021 83.158 z " style="fill: #ffffff; opacity: 0.8; stroke: #cccccc; stroke-linejoin: miter"/> </g> <g> <path d="M 598.021 73.578 L 608.021 73.578 L 618.021 73.578 " style="fill: none; stroke: #ff0000; stroke-width: 1.5; stroke-linecap: square"/> </g> <g> <text style="font-size: 10px; text-anchor: start" x="626.021" y="77.078">RP</text> </g> </g> </g> <g> <g> <g> <g> <g> <path d="M 648 427.152 L 651.5 427.152" style="stroke: #000000; stroke-width: 0.8"/> </g> </g> <g> <text style="font-size: 10px; text-anchor: start" x="655" y="430.951">0.00</text> </g> </g> <g> <g> <g> <path d="M 648 404.712 L 651.5 404.712" style="stroke: #000000; stroke-width: 0.8"/> </g> </g> <g> <g transform="translate(0.000 -0.248)"><text style="font-size: 10px; text-anchor: start" x="655" y="408.511">0.25</text></g> </g> </g> <g> <g> <g> <path d="M 648 382.272 L 651.5 382.272" style="stroke: #000000; stroke-width: 0.8"/> </g> </g> <g> <text style="font-size: 10px; text-anchor: start" x="655" y="386.071">0.50</text> </g> </g> <g> <g> <g> <path d="M 648 359.832 L 651.5 359.832" style="stroke: #000000; stroke-width: 0.8"/> </g> </g> <g> <g transform="translate(0.000 -0.350)"><text style="font-size: 10px; text-anchor: start" x="655" y="363.631">0.75</text></g> </g> </g> <g> <g> <g> <path d="M 648 337.392 L 651.5 337.392" style="stroke: #000000; stroke-width: 0.8"/> </g> </g> <g> <g transform="translate(-0.102 -0.118)"><text style="font-size: 10px; text-anchor: start" x="655" y="341.191">1.00</text></g> </g> </g> <g> <g> <g> <path d="M 648 314.952 L 651.5 314.952" style="stroke: #000000; stroke-width: 0.8"/> </g> </g> <g> <text style="font-size: 10px; text-anchor: start" x="655" y="318.751">1.25</text> </g> </g> <g> <g> <g> <path d="M 648 292.512 L 651.5 292.512" style="stroke: #000000; stroke-width: 0.8"/> </g> </g> <g> <g transform="translate(0.000 -0.121)"><text style="font-size: 10px; text-anchor: start" x="655" y="296.311">1.50</text></g> </g> </g> <g> <g transform="translate(689.685 418.594) rotate(-90)"> <g transform="translate(0.120 1.200)"><text><tspan x="0" y="-0.976" style="font-size: 10px">Flux (W * m</tspan><tspan x="58.948" y="-4.804" style="font-size: 7px">2</tspan><tspan x="63.675" y="-0.976" style="font-size: 10px"> * nm</tspan><tspan x="92.571" y="-4.804" style="font-size: 7px">−</tspan><tspan x="100.169" y="-4.804" style="font-size: 7px">1</tspan><tspan x="104.896" y="-0.976" style="font-size: 10px">)</tspan></text></g> </g> </g> <g> <text style="font-size: 10px; text-anchor: end" x="648" y="276.829">1e−17</text> </g> </g> <g> <path d="M 115.485 377.427 L 116.258 367.924 L 116.565 369.353 L 117.285 377.230 L 118.725 396.576 L 119.445 402.949 L 119.805 404.560 L 120.525 405.717 L 120.885 406.077 L 121.396 406.598 L 121.605 407.056 L 122.326 409.802 L 124.126 419.185 L 124.486 420.407 L 124.711 420.687 L 124.846 420.613 L 125.206 419.853 L 125.566 418.658 L 125.926 416.615 L 127.197 406.046 L 127.750 401.074 L 128.086 399.627 L 128.468 398.864 L 128.807 399.409 L 129.167 400.661 L 129.527 402.915 L 130.247 409.327 L 131.327 419.816 L 132.047 425.230 L 132.446 426.764 L 132.767 426.388 L 133.275 424.830 L 133.487 423.730 L 136.008 404.376 L 136.424 402.179 L 136.728 401.351 L 137.142 400.797 L 137.448 401.110 L 137.860 402.179 L 138.168 403.842 L 139.352 413.781 L 140.328 421.943 L 140.688 424.138 L 141.048 425.471 L 141.562 426.212 L 141.768 425.855 L 142.280 423.173 L 142.489 421.576 L 143.209 412.860 L 144.649 389.564 L 145.153 386.156 L 145.369 385.773 L 145.595 385.604 L 145.729 385.778 L 146.148 387.814 L 146.700 395.549 L 147.529 412.134 L 148.910 438.090 L 149.330 441.021 L 149.407 441.129 L 149.690 440.188 L 149.904 438.643 L 150.050 436.612 L 152.210 390.329 L 152.612 385.604 L 152.930 384.643 L 153.164 384.388 L 153.290 384.508 L 153.717 386.156 L 154.010 389.265 L 154.370 395.076 L 156.171 430.917 L 156.531 435.822 L 156.891 438.887 L 157.142 439.748 L 157.251 439.643 L 157.611 438.120 L 157.971 435.368 L 158.691 422.832 L 159.411 409.263 L 160.131 398.835 L 160.623 393.891 L 161.211 391.817 L 161.451 391.571 L 161.571 391.620 L 161.931 392.257 L 162.291 393.380 L 162.652 396.059 L 164.452 415.350 L 165.172 420.044 L 165.532 421.615 L 165.761 421.958 L 165.892 421.902 L 166.252 421.269 L 166.700 419.858 L 166.972 418.282 L 168.412 404.429 L 169.186 397.759 L 169.853 393.836 L 170.213 392.936 L 170.573 392.384 L 170.933 392.262 L 171.293 392.842 L 171.672 393.891 L 172.013 395.396 L 173.813 405.854 L 174.533 408.457 L 174.893 409.079 L 175.253 409.507 L 175.613 409.624 L 175.974 409.229 L 176.694 407.578 L 177.414 404.739 L 178.855 398.864 L 179.574 396.687 L 179.934 396.337 L 180.512 396.101 L 180.654 396.161 L 181.014 396.738 L 181.734 398.638 L 183.175 403.514 L 183.827 404.941 L 184.615 405.789 L 185.208 406.046 L 185.335 406.015 L 185.695 405.642 L 186.590 403.836 L 187.135 402.433 L 188.575 398.347 L 189.352 396.654 L 190.376 395.240 L 190.736 394.958 L 191.096 394.893 L 191.456 395.065 L 192.391 396.101 L 192.536 396.312 L 193.976 399.108 L 194.696 399.889 L 195.056 400.144 L 195.429 400.245 L 195.776 400.163 L 196.497 399.584 L 197.217 398.665 L 197.937 396.771 L 199.017 392.883 L 200.097 388.573 L 200.817 386.089 L 201.537 384.473 L 202.257 383.403 L 202.978 382.945 L 203.440 382.841 L 203.698 382.918 L 204.418 383.680 L 205.498 385.314 L 206.578 387.459 L 208.378 390.879 L 209.098 391.474 L 210.179 391.921 L 210.899 391.898 L 211.619 391.550 L 212.699 390.818 L 214.499 389.194 L 215.939 388.558 L 216.983 388.366 L 217.740 388.455 L 222.232 389.471 L 223.140 389.388 L 224.994 388.919 L 226.021 388.477 L 227.461 387.835 L 229.261 387.293 L 229.981 387.280 L 231.062 387.589 L 232.142 388.073 L 233.222 388.846 L 236.102 391.040 L 237.183 391.697 L 238.983 392.513 L 239.911 392.676 L 241.143 392.554 L 243.303 392.064 L 245.464 391.401 L 247.624 391.135 L 248.704 391.188 L 250.505 391.577 L 255.185 392.601 L 256.265 392.589 L 257.706 392.337 L 258.786 392.011 L 260.226 391.207 L 261.306 390.454 L 263.826 388.275 L 265.987 386.354 L 267.787 385.152 L 268.867 384.702 L 270.307 384.305 L 271.388 384.233 L 272.468 384.436 L 274.628 385.132 L 277.869 386.609 L 279.309 387.262 L 281.109 387.681 L 282.549 387.813 L 283.629 387.675 L 285.790 387.075 L 290.830 385.124 L 292.271 384.964 L 293.711 384.977 L 295.511 385.251 L 303.792 386.741 L 309.553 387.316 L 316.034 388.385 L 320.574 388.919 L 321.795 388.765 L 330.076 387.933 L 330.796 388.332 L 331.630 388.919 L 332.597 389.301 L 333.012 389.361 L 333.317 389.285 L 334.037 388.712 L 334.757 387.905 L 335.498 386.985 L 336.327 386.709 L 336.557 386.766 L 337.277 387.384 L 337.637 387.765 L 339.798 390.670 L 340.518 391.199 L 341.238 391.403 L 341.598 391.289 L 342.318 390.691 L 343.398 389.464 L 344.478 387.929 L 345.199 387.399 L 345.919 387.039 L 346.279 386.985 L 346.639 387.103 L 347.359 387.772 L 348.079 388.663 L 349.586 391.129 L 350.959 392.455 L 351.679 392.779 L 352.040 392.741 L 352.760 392.197 L 353.840 390.836 L 355.640 387.491 L 356.360 386.530 L 357.080 386.112 L 357.597 385.991 L 357.800 386.032 L 358.160 386.275 L 358.979 387.261 L 359.241 387.688 L 359.961 389.428 L 361.401 392.949 L 362.121 394.288 L 362.481 394.563 L 363.201 394.916 L 363.675 394.996 L 363.921 394.944 L 364.641 394.359 L 365.361 393.453 L 366.442 391.136 L 368.242 387.679 L 368.962 386.977 L 369.682 386.501 L 370.042 386.433 L 370.402 386.517 L 371.122 387.019 L 372.202 388.151 L 375.083 392.425 L 375.803 392.894 L 376.523 393.129 L 377.243 393.148 L 377.963 392.935 L 379.044 392.409 L 379.764 391.765 L 380.844 390.717 L 381.924 390.176 L 382.644 389.948 L 383.364 389.946 L 384.444 390.333 L 385.164 390.702 L 385.885 391.333 L 387.325 392.808 L 388.405 393.421 L 389.485 393.884 L 390.470 394.057 L 390.925 394.013 L 392.005 393.652 L 393.086 393.084 L 394.166 392.016 L 395.246 390.979 L 396.686 390.160 L 397.406 389.932 L 398.126 389.979 L 398.846 390.271 L 400.287 391.145 L 401.367 392.179 L 402.625 393.339 L 404.247 394.402 L 404.967 394.636 L 406.768 394.880 L 408.208 394.823 L 412.889 394.211 L 414.689 393.776 L 416.129 393.218 L 417.209 392.400 L 418.289 391.575 L 419.369 391.148 L 420.450 390.880 L 421.170 390.877 L 421.890 391.088 L 423.330 391.852 L 424.050 392.548 L 425.490 394.172 L 426.931 395.210 L 428.011 395.809 L 428.868 395.991 L 429.451 395.904 L 430.531 395.431 L 431.971 394.602 L 433.051 393.822 L 433.772 393.573 L 435.572 393.342 L 435.932 393.351 L 436.652 393.670 L 438.812 395.332 L 439.892 396.088 L 441.333 396.596 L 442.053 396.640 L 442.773 396.403 L 444.213 395.529 L 446.734 393.365 L 447.659 392.897 L 448.894 392.679 L 449.254 392.700 L 449.974 393.055 L 451.054 393.957 L 452.134 395.437 L 453.935 397.727 L 454.841 398.587 L 456.095 399.364 L 456.815 399.526 L 457.535 399.331 L 458.709 398.587 L 459.335 397.983 L 461.136 395.540 L 462.576 393.530 L 463.296 392.974 L 464.376 392.507 L 465.096 392.400 L 465.816 392.652 L 466.996 393.615 L 467.617 394.354 L 471.217 399.777 L 472.297 400.678 L 473.074 401.074 L 474.098 401.325 L 474.818 401.305 L 475.538 401.013 L 476.978 400.087 L 479.498 397.902 L 480.532 397.317 L 481.659 396.984 L 482.379 396.939 L 483.459 397.226 L 484.899 397.862 L 486.886 398.974 L 488.860 399.607 L 489.940 399.682 L 491.380 399.428 L 492.460 399.070 L 494.981 397.746 L 496.421 397.346 L 497.141 397.329 L 498.221 397.526 L 499.661 398.019 L 501.102 398.963 L 503.622 400.584 L 504.565 400.963 L 506.142 401.183 L 506.862 401.117 L 508.303 400.677 L 509.023 400.358 L 510.463 399.366 L 511.748 398.587 L 513.343 397.988 L 514.423 397.822 L 515.864 397.776 L 516.584 397.982 L 518.384 398.905 L 520.904 400.742 L 522.345 401.727 L 523.425 402.053 L 524.505 402.178 L 525.585 402.031 L 527.025 401.610 L 528.106 401.034 L 530.986 399.372 L 531.706 399.125 L 533.146 398.882 L 534.226 398.933 L 535.667 399.364 L 536.747 399.974 L 541.067 403.021 L 542.508 403.477 L 543.588 403.547 L 545.028 403.286 L 545.748 403.062 L 546.828 402.346 L 548.268 401.354 L 552.229 398.995 L 552.949 398.864 L 554.029 399.039 L 555.470 399.578 L 556.550 400.383 L 558.350 402.064 L 560.870 404.592 L 561.754 405.217 L 563.031 405.727 L 563.964 405.880 L 564.831 405.784 L 566.271 405.345 L 566.991 404.894 L 568.431 403.512 L 569.512 402.199 L 572.032 398.934 L 572.752 398.222 L 573.472 397.882 L 574.552 397.560 L 575.290 397.482 L 575.993 397.676 L 576.713 398.175 L 578.153 399.527 L 579.233 401.009 L 581.033 403.985 L 582.834 407.065 L 584.634 409.667 L 585.714 411.036 L 586.434 411.481 L 587.154 411.764 L 587.874 411.836 L 588.594 411.558 L 589.675 410.760 L 590.395 409.843 L 591.475 407.960 L 592.693 404.941 L 593.635 402.181 L 596.156 394.610 L 597.236 391.968 L 598.316 390.037 L 599.047 389.195 L 599.756 388.780 L 600.318 388.643 L 600.476 388.662 L 600.836 388.833 L 601.556 389.497 L 601.916 390.089 L 602.638 391.958 L 603.357 394.482 L 604.437 399.427 L 605.517 405.582 L 607.677 418.320 L 609.838 429.763 L 610.918 434.034 L 611.278 434.921 L 611.638 435.558 L 612.030 435.880 L 612.358 435.623 L 612.718 434.870 L 613.2 433.44 L 613.438 432.388 L 614.878 422.554 L 615.598 416.050 L 616.464 402.672 L 620.999 319.251 L 622.8 287.64 L 622.8 287.64 " clip-path="url(#p4cbbc29d7d)" transform="translate(-0.12 -0.12)" style="fill: none; stroke: #000000; stroke-width: 1.5; stroke-linecap: square"/> </g> <g> <path d="M 90 448.56 L 90 279.829 " style="fill: none; stroke: #000000; stroke-width: 0.8; stroke-linejoin: miter; stroke-linecap: square"/> </g> <g> <path d="M 648 448.56 L 648 279.829 " style="fill: none; stroke: #000000; stroke-width: 0.8; stroke-linejoin: miter; stroke-linecap: square"/> </g> <g> <path d="M 90 448.56 L 648 448.56 " style="fill: none; stroke: #000000; stroke-width: 0.8; stroke-linejoin: miter; stroke-linecap: square"/> </g> <g> <path d="M 90 279.829 L 648 279.829 " style="fill: none; stroke: #000000; stroke-width: 0.8; stroke-linejoin: miter; stroke-linecap: square"/> </g> <g> <g> <path d="M 97 443.56 L 149.785 443.56 Q 151.785 443.56 151.785 441.56 L 151.785 427.881 Q 151.785 425.881 149.785 425.881 L 97 425.881 Q 95 425.881 95 427.881 L 95 441.56 Q 95 443.56 97 443.56 z " style="fill: #ffffff; opacity: 0.8; stroke: #cccccc; stroke-linejoin: miter"/> </g> <g> <path d="M 99 433.980 L 109 433.980 L 119 433.980 " style="fill: none; stroke: #000000; stroke-width: 1.5; stroke-linecap: square"/> </g> <g> <text style="font-size: 10px; text-anchor: start" x="127" y="437.480">Flux</text> </g> </g> </g> </g> <defs> <clipPath id="p7373bc0abd"> <rect x="90" y="60.48" width="227.755" height="168.730"/> </clipPath> <clipPath id="pa615c9e503"> <rect x="420.244" y="60.48" width="227.755" height="168.730"/> </clipPath> <clipPath id="p4cbbc29d7d"> <rect x="90" y="279.829" width="558" height="168.730"/> </clipPath> </defs> </svg> 
</body></html>
